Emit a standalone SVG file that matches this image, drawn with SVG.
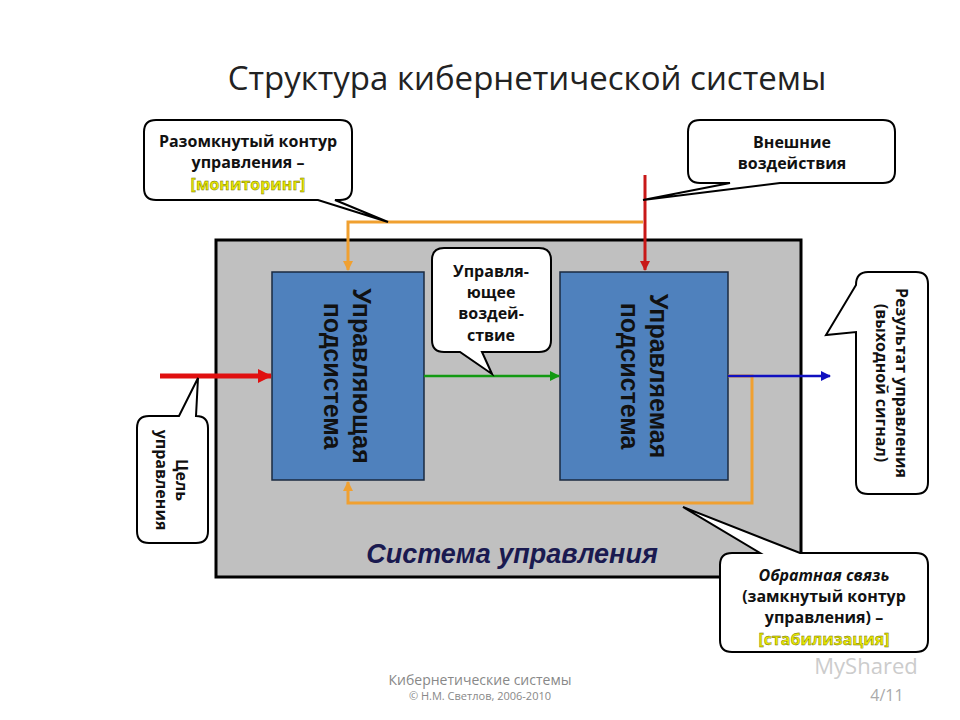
<svg xmlns="http://www.w3.org/2000/svg" width="960" height="720" viewBox="0 0 960 720">
<defs>
<style>
.co{fill:#fff;stroke:#000;stroke-width:2}
.ct{font-family:"Open Sans","DejaVu Sans",sans-serif;font-weight:700;font-size:16px;fill:#111;text-anchor:middle}
.hl{fill:#e8e800;stroke:#6b6b00;stroke-width:0.4}
.bx{fill:#4f81bd;stroke:#1a2a40;stroke-width:1.5}
.bt{font-family:"Liberation Sans",sans-serif;font-weight:bold;font-size:25px;fill:#111;text-anchor:middle}
</style>
<marker id="ao" markerWidth="10" markerHeight="10" refX="9" refY="5" orient="auto" markerUnits="userSpaceOnUse"><path d="M0,0 L10,5 L0,10 Z" fill="#f0a030"/></marker>
<marker id="ar" markerWidth="14" markerHeight="14" refX="13" refY="7" orient="auto" markerUnits="userSpaceOnUse"><path d="M0,0 L14,7 L0,14 Z" fill="#e01010"/></marker>
<marker id="ar2" markerWidth="10" markerHeight="10" refX="9" refY="5" orient="auto" markerUnits="userSpaceOnUse"><path d="M0,0 L10,5 L0,10 Z" fill="#c81818"/></marker>
<marker id="ag" markerWidth="10" markerHeight="10" refX="9" refY="5" orient="auto" markerUnits="userSpaceOnUse"><path d="M0,0 L10,5 L0,10 Z" fill="#139a13"/></marker>
<marker id="ab" markerWidth="10" markerHeight="10" refX="9" refY="5" orient="auto" markerUnits="userSpaceOnUse"><path d="M0,0 L10,5 L0,10 Z" fill="#1010c0"/></marker>
</defs>
<rect width="960" height="720" fill="#fff"/>
<text x="527" y="90" font-family="Open Sans,DejaVu Sans,sans-serif" font-size="33" fill="#222" text-anchor="middle">Структура кибернетической системы</text>

<g id="system">
<rect x="216" y="240" width="585" height="337" fill="#c0c0c0" stroke="#000" stroke-width="3"/>
<text x="512" y="563" font-family="Liberation Sans,sans-serif" font-weight="bold" font-style="italic" font-size="27" fill="#1a1a50" text-anchor="middle">Система управления</text>
</g>
<g id="controller">
<rect class="bx" x="272" y="272" width="152" height="208"/>
<text class="bt" transform="translate(344,376) rotate(90)"><tspan x="0" y="-9">Управляющая</tspan><tspan x="0" y="20">подсистема</tspan></text>
</g>
<g id="controlled">
<rect class="bx" x="560" y="272" width="168" height="208"/>
<text class="bt" transform="translate(641,376) rotate(90)"><tspan x="0" y="-9">Управляемая</tspan><tspan x="0" y="20">подсистема</tspan></text>
</g>

<g id="connectors" fill="none">
<path d="M643,222 H348 V270" stroke="#f0a030" stroke-width="3" marker-end="url(#ao)"/>
<path d="M728,376 H752 V503 H348 V482" stroke="#f0a030" stroke-width="3" marker-end="url(#ao)"/>
<path d="M645,175 V270" stroke="#c81818" stroke-width="3" marker-end="url(#ar2)"/>
<path d="M160,376 H271" stroke="#e01010" stroke-width="5" marker-end="url(#ar)"/>
<path d="M424,376 H559" stroke="#139a13" stroke-width="2.5" marker-end="url(#ag)"/>
<path d="M728,376 H830" stroke="#1010c0" stroke-width="2.5" marker-end="url(#ab)"/>
</g>

<g id="callout-open">
<path class="co" d="M156,120 H340 Q352,120 352,132 V188 Q352,200 340,200 H335 L388,222 L318,200 H156 Q144,200 144,188 V132 Q144,120 156,120 Z"/>
<text class="ct" x="248" y="147">Разомкнутый контур</text>
<text class="ct" x="248" y="168">управления –</text>
<text class="ct hl" x="248" y="190">[мониторинг]</text>
</g>
<g id="callout-external">
<path class="co" d="M700,120 H883 Q895,120 895,132 V171 Q895,183 883,183 H780 L643,200 L730,183 H700 Q688,183 688,171 V132 Q688,120 700,120 Z"/>
<text class="ct" x="792" y="148">Внешние</text>
<text class="ct" x="792" y="169">воздействия</text>
</g>
<g id="callout-action">
<path class="co" d="M444,248 H539 Q551,248 551,260 V340 Q551,352 539,352 H482 L492,374 L460,352 H444 Q432,352 432,340 V260 Q432,248 444,248 Z"/>
<text class="ct" x="491" y="277">Управля-</text>
<text class="ct" x="491" y="298">ющее</text>
<text class="ct" x="491" y="319">воздей-</text>
<text class="ct" x="491" y="341">ствие</text>
</g>
<g id="callout-goal">
<path class="co" d="M149,416 H179 L198,378 L196,416 Q208,416 208,428 V531 Q208,543 196,543 H149 Q137,543 137,531 V428 Q137,416 149,416 Z"/>
<text class="ct" transform="translate(172,480) rotate(90)"><tspan x="0" y="-4">Цель</tspan><tspan x="0" y="16">управления</tspan></text>
</g>
<g id="callout-result">
<path class="co" d="M868,272 H916 Q928,272 928,284 V482 Q928,494 916,494 H868 Q856,494 856,482 V332 L826,335 L856,285 Q856,272 868,272 Z"/>
<text class="ct" transform="translate(892,383) rotate(90)"><tspan x="0" y="-4">Результат управления</tspan><tspan x="0" y="16">(выходной сигнал)</tspan></text>
</g>
<g id="callout-feedback">
<path class="co" d="M732,553 H760 L683,507 L800,553 H916 Q928,553 928,565 V640 Q928,652 916,652 H732 Q720,652 720,640 V565 Q720,553 732,553 Z"/>
<text class="ct" x="824" y="581" font-style="italic">Обратная связь</text>
<text class="ct" x="824" y="602">(замкнутый контур</text>
<text class="ct" x="824" y="623">управления) –</text>
<text class="ct hl" x="824" y="645">[стабилизация]</text>
</g>

<g id="footer" font-family="Open Sans,DejaVu Sans,sans-serif" fill="#888" text-anchor="middle">
<text x="480" y="685" font-size="14">Кибернетические системы</text>
<text x="480" y="700" font-size="11">© Н.М. Светлов, 2006-2010</text>
<text x="866" y="674" font-size="22" fill="#ccc">MyShared</text>
<text x="887" y="701" font-size="16" fill="#aaa">4/11</text>
</g>
</svg>
